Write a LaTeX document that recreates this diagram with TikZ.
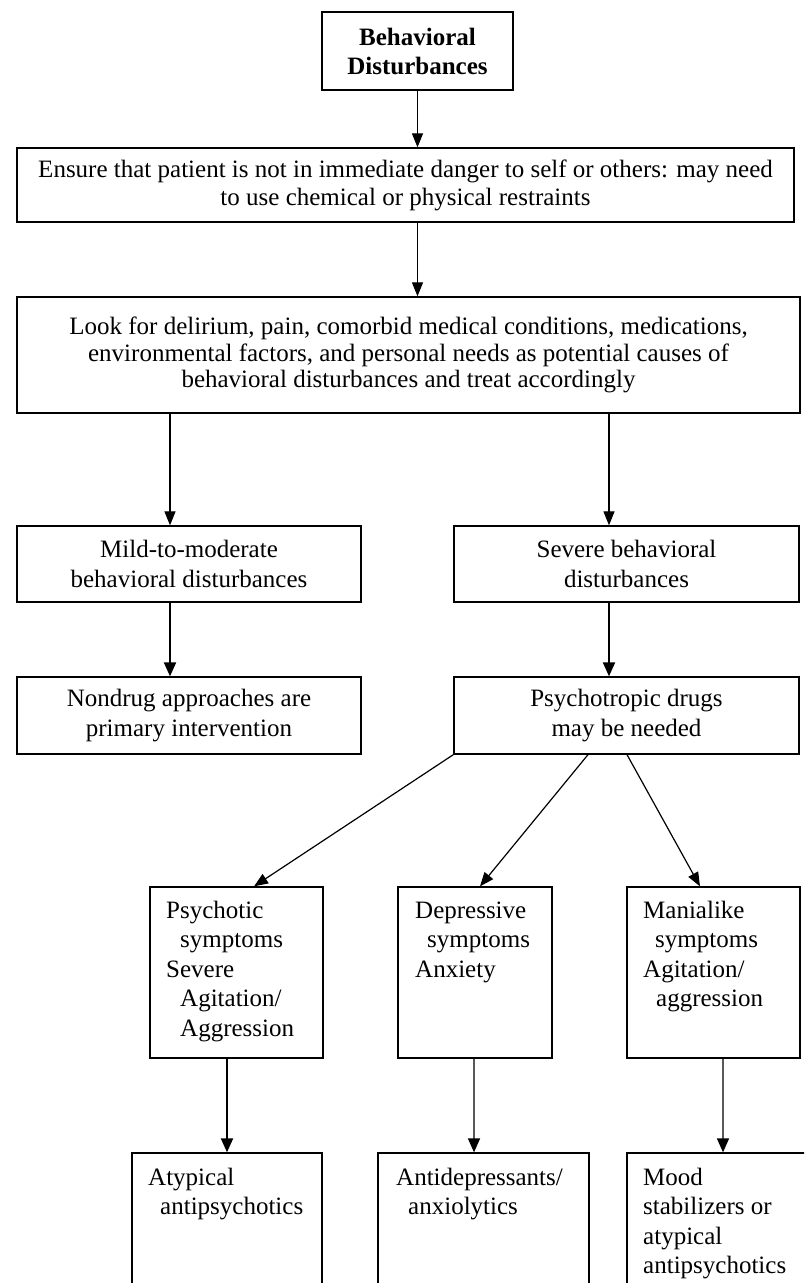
\documentclass[tikz,border=0pt]{standalone}
\usepackage{fontspec}
\setmainfont{Liberation Serif}
\usetikzlibrary{arrows.meta}
\begin{document}
\begin{tikzpicture}[x=1pt,y=-1pt,
  box/.style={draw, line width=1.3pt, inner sep=0pt, align=center,
    font=\fontsize{25}{28}\selectfont},
  topbox/.style={box, line width=2.6pt, font=\fontsize{25}{29}\selectfont\bfseries},
  txt/.style={inner sep=0pt, anchor=base west, font=\fontsize{25}{29.5}\selectfont},
  arr/.style={line width=1.2pt, -{Triangle[length=14pt,width=11pt]}},
  arrb/.style={line width=2pt, -{Triangle[length=14pt,width=12pt]}},
  arrg/.style={line width=1.5pt, draw=black!65, -{Triangle[length=14pt,width=12pt,fill=black,color=black]}}
]
\useasboundingbox (0,0) rectangle (804,1283);
\fill[white] (0,0) rectangle (804,1283);
\clip (0,0) rectangle (804,1283);

% boxes
\node[topbox, minimum width=191pt, minimum height=78pt] (top) at (417.5,51) {Behavioral\\Disturbances};
\node[box, minimum width=777pt, minimum height=74pt] (ensure) at (405.5,185)
  {Ensure that patient is not in immediate danger to self or others: may need\\to use chemical or physical restraints};
\node[box, minimum width=783pt, minimum height=116pt, font=\fontsize{25}{26.5}\selectfont] (look) at (408.5,355)
  {Look for delirium, pain, comorbid medical conditions, medications,\\environmental factors, and personal needs as potential causes of\\behavioral disturbances and treat accordingly};
\node[box, minimum width=344pt, minimum height=76pt, font=\fontsize{25}{30}\selectfont] (mild) at (189,564) {Mild-to-moderate\\behavioral disturbances};
\node[box, minimum width=345pt, minimum height=76pt, font=\fontsize{25}{30}\selectfont] (severe) at (626.5,564) {Severe behavioral\\disturbances};
\node[box, minimum width=344pt, minimum height=77pt, font=\fontsize{25}{30}\selectfont] (nondrug) at (189,715.5) {Nondrug approaches are\\primary intervention};
\node[box, minimum width=345pt, minimum height=77pt, font=\fontsize{25}{30}\selectfont] (psycho) at (626.5,715.5) {Psychotropic drugs\\may be needed};

\node[box, minimum width=173pt, minimum height=171pt] (psyc) at (236.5,972.5) {};
\node[box, minimum width=154pt, minimum height=171pt] (dep) at (475,972.5) {};
\node[box, minimum width=173pt, minimum height=171pt] (mani) at (713.5,972.5) {};

\node[box, minimum width=190pt, minimum height=160pt] (atyp) at (227,1233) {};
\node[box, minimum width=211pt, minimum height=160pt] (antid) at (483.5,1233) {};
\node[box, minimum width=203pt, minimum height=160pt] (mood) at (728.5,1233) {};

% texts of the lower boxes
\node[txt] (psycT) at (166,918) {\begin{tabular}[t]{@{}l@{}}Psychotic\\\hspace*{14pt}symptoms\\Severe\\\hspace*{14pt}Agitation/\\\hspace*{14pt}Aggression\end{tabular}};
\node[txt] (depT) at (415,918) {\begin{tabular}[t]{@{}l@{}}Depressive\\\hspace*{12pt}symptoms\\Anxiety\end{tabular}};
\node[txt] (maniT) at (643,918) {\begin{tabular}[t]{@{}l@{}}Manialike\\\hspace*{12pt}symptoms\\Agitation/\\\hspace*{13pt}aggression\end{tabular}};
\node[txt] (atypT) at (148,1185) {\begin{tabular}[t]{@{}l@{}}Atypical\\\hspace*{12pt}antipsychotics\end{tabular}};
\node[txt] (antidT) at (396,1185) {\begin{tabular}[t]{@{}l@{}}Antidepressants/\\\hspace*{12pt}anxiolytics\end{tabular}};
\node[txt] (moodT) at (643,1185) {\begin{tabular}[t]{@{}l@{}}Mood\\stabilizers or\\atypical\\antipsychotics\end{tabular}};

% connectors
\draw[arr] (top.south) -- (top.south |- ensure.north);
\draw[arr] (ensure.south -| top.south) -- (look.north -| top.south);
\draw[arr] ([xshift=-19pt]mild.north |- look.south) -- ([xshift=-19pt]mild.north);
\draw[arr] ([xshift=-17.5pt]severe.north |- look.south) -- ([xshift=-17.5pt]severe.north);
\draw[arrb] ([xshift=-19pt]mild.south) -- ([xshift=-19pt]nondrug.north);
\draw[arrb] ([xshift=-17.5pt]severe.south) -- ([xshift=-17.5pt]psycho.north);
\draw[arr] (psycho.south west) -- ([xshift=17.5pt]psyc.north);
\draw[arr] ([xshift=-38.5pt]psycho.south) -- ([xshift=5pt]dep.north);
\draw[arr] ([xshift=0.5pt]psycho.south) -- ([xshift=-13.5pt]mani.north);
\draw[arrb] ([xshift=-9.5pt]psyc.south) -- ([xshift=-9.5pt]psyc.south |- atyp.north);
\draw[arrg] ([xshift=-1pt]dep.south) -- ([xshift=-1pt]dep.south |- antid.north);
\draw[arrg] ([xshift=9.5pt]mani.south) -- ([xshift=9.5pt]mani.south |- mood.north);
\end{tikzpicture}
\end{document}
